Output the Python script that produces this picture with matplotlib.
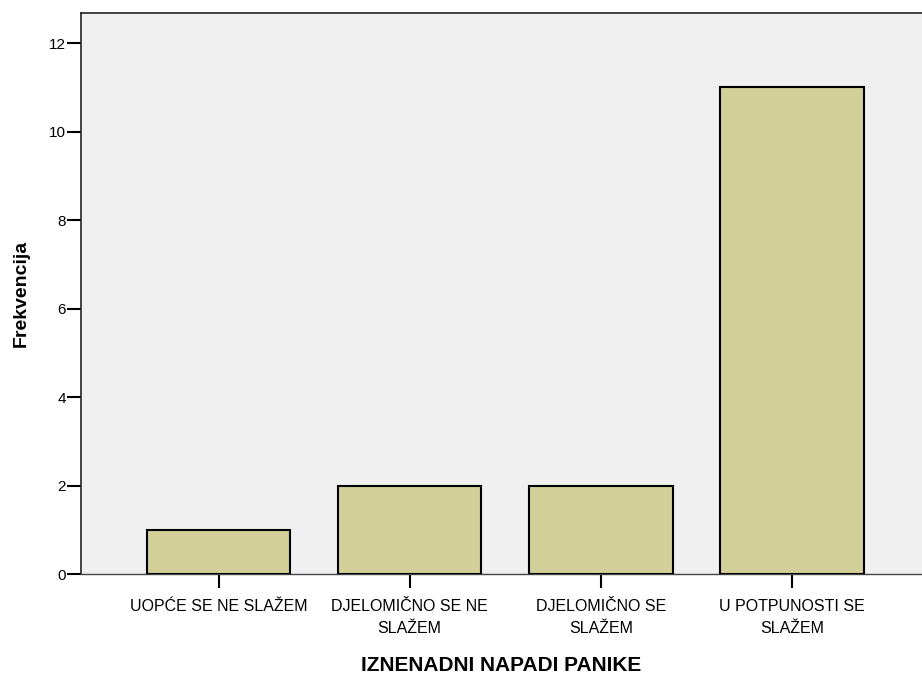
import matplotlib.pyplot as plt
import numpy as np

plt.rcParams['font.family'] = ['Liberation Sans', 'DejaVu Sans']

kategorije = ["UOPĆE SE NE SLAŽEM", "DJELOMIČNO SE NE\nSLAŽEM",
              "DJELOMIČNO SE\nSLAŽEM", "U POTPUNOSTI SE\nSLAŽEM"]
frekvencije = [1, 2, 2, 11]
y_ticks = [0, 2, 4, 6, 8, 10, 12]

fig = plt.figure(figsize=(9.22, 6.77), dpi=100)
ax = fig.add_axes([81 / 922, 1 - 574 / 677, 841 / 922, (574 - 13) / 677])
ax.set_facecolor('#f0f0f0')

x = np.arange(len(kategorije))
ax.bar(x, frekvencije, width=0.75, color='#d3cf98', edgecolor='black', linewidth=1.5, zorder=3)

ax.set_xlim(-0.72, 3.68)
ax.set_ylim(0, 12.68)
ax.set_yticks(y_ticks)
ax.set_yticklabels([str(v) for v in y_ticks], fontsize=11)
ax.set_xticks(x)
ax.set_xticklabels(kategorije, fontsize=11.5, linespacing=1.6)

ax.tick_params(axis='x', length=10, width=1.5, pad=8)
ax.tick_params(axis='y', length=10, width=1.5, pad=1)

for s in ['left', 'top']:
    ax.spines[s].set_linewidth(1.2)
    ax.spines[s].set_color('#222222')
ax.spines['bottom'].set_linewidth(1)
ax.spines['bottom'].set_color('#444444')
ax.spines['right'].set_visible(False)

ax.set_ylabel("Frekvencija", fontsize=14, fontweight='bold', labelpad=14)
ax.set_xlabel("IZNENADNI NAPADI PANIKE", fontsize=15, fontweight='bold', labelpad=14)

fig.savefig("out.png", dpi=100)
